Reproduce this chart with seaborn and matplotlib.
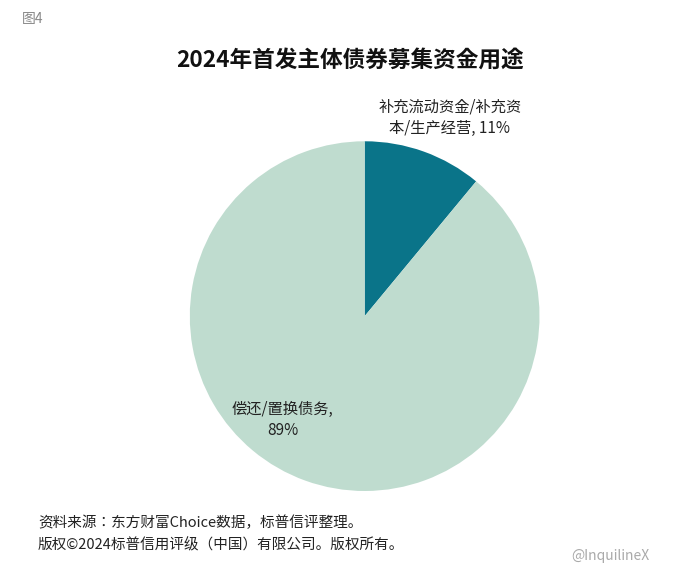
import matplotlib
matplotlib.use("Agg")
import matplotlib.pyplot as plt
from matplotlib import font_manager as fm
import seaborn as sns

sns.set_theme(style="white")
cjk = None
for f in fm.fontManager.ttflist:
    if "CJK" in f.name and ("SC" in f.name or cjk is None):
        cjk = f.name
        if "SC" in f.name:
            break
fam = [cjk or "Noto Sans CJK SC", "DejaVu Sans"]
plt.rcParams["font.family"] = "sans-serif"
plt.rcParams["font.sans-serif"] = fam

categories = ["补充流动资金/补充资本/生产经营", "偿还/置换债务"]
values = [11, 89]
colors = ["#0a7489", "#bfdccf"]

fig = plt.figure(figsize=(6.9, 5.79), dpi=100)
ax = fig.add_axes([0.275, 0.152, 0.507, 0.604])
ax.pie(values, colors=colors, startangle=90, counterclock=False,
       wedgeprops=dict(linewidth=0), radius=1.0)
ax.set_xlim(-1, 1)
ax.set_ylim(-1, 1)
ax.set_aspect("equal")
ax.axis("off")

kw = dict(fontfamily=fam)
fig.text(0.032, 0.968, "图4", fontsize=10, color="#888888", va="center", ha="left", **kw)
fig.text(0.507, 0.896, "2024年首发主体债券募集资金用途", fontsize=16.3, fontweight="bold",
         ha="center", va="center", color="#111111", **kw)
fig.text(0.652, 0.797, "补充流动资金/补充资\n本/生产经营, 11%", fontsize=11,
         ha="center", va="center", color="#222222", linespacing=1.3, **kw)
fig.text(0.41, 0.275, "偿还/置换债务,\n89%", fontsize=11,
         ha="center", va="center", color="#222222", linespacing=1.3, **kw)
fig.text(0.055, 0.097, "资料来源：东方财富Choice数据，标普信评整理。", fontsize=10.5,
         ha="left", va="center", color="#222222", **kw)
fig.text(0.055, 0.059, "版权©2024标普信用评级（中国）有限公司。版权所有。", fontsize=10.5,
         ha="left", va="center", color="#222222", **kw)
fig.text(0.885, 0.040, "@InquilineX", fontsize=10, ha="center", va="center", color="#aaaaaa", **kw)

fig.savefig("out.png", dpi=100)
